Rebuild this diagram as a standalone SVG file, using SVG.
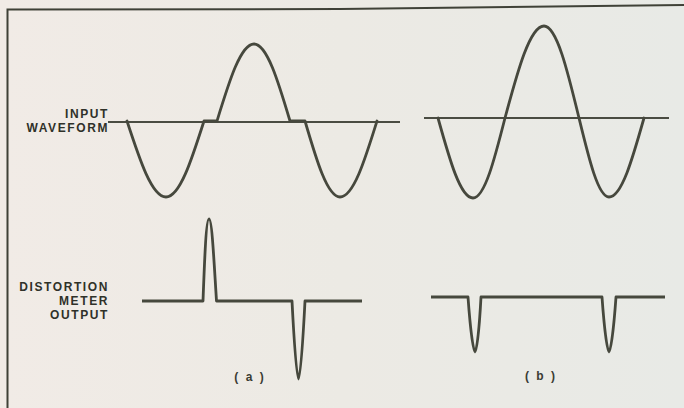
<svg xmlns="http://www.w3.org/2000/svg" width="684" height="408" viewBox="0 0 684 408">
  <defs>
    <linearGradient id="paper" x1="0" y1="0" x2="1" y2="0">
      <stop offset="0" stop-color="#f1ebe6"/>
      <stop offset="0.5" stop-color="#eceae4"/>
      <stop offset="1" stop-color="#e8eae6"/>
    </linearGradient>
  </defs>
  <style>
    .wave { fill: none; stroke: #46483d; stroke-width: 2.8; stroke-linejoin: round; stroke-linecap: round; }
    .axis { fill: none; stroke: #4a4c42; stroke-width: 1.8; }
    .out { fill: none; stroke: #46483d; stroke-width: 2.8; stroke-linejoin: round; }
    .frame { fill: none; stroke: #3f4137; stroke-width: 2; }
    .lbl { font-family: "Liberation Sans", Arial, sans-serif; font-weight: bold; font-size: 12px; letter-spacing: 1.6px; fill: #2f3129; text-anchor: end; }
    .cap { font-family: "Liberation Sans", Arial, sans-serif; font-weight: bold; font-size: 12px; fill: #3a3c33; text-anchor: middle; letter-spacing: 2px; }
  </style>
  <rect x="0" y="0" width="684" height="408" fill="url(#paper)"/>

  <g id="frame">
    <polyline class="frame" points="7.5,408 7.5,9.5 340,9 684,5"/>
  </g>

  <g id="labels">
    <text class="lbl" x="109" y="118">INPUT</text>
    <text class="lbl" x="109" y="132">WAVEFORM</text>
    <text class="lbl" x="109" y="291">DISTORTION</text>
    <text class="lbl" x="109" y="305">METER</text>
    <text class="lbl" x="109" y="319">OUTPUT</text>
    <text class="cap" x="250" y="381">( a )</text>
    <text class="cap" x="541" y="380">( b )</text>
  </g>

  <g id="input-a">
    <line class="axis" x1="108" y1="122" x2="400" y2="122"/>
    <path class="wave" d="M127,121 C139.7,159.9 151.9,197 166,197 C179.8,197 191.6,159.9 204,121 L217,121 C229.1,81.6 240.6,44 254,44 C267,44 278.3,81.6 290,121 L305,121 C316.4,159.9 327.3,197 340,197 C353.4,197 364.9,159.9 377,121"/>
  </g>

  <g id="input-b">
    <line class="axis" x1="424" y1="118" x2="669" y2="118"/>
    <path class="wave" d="M438,118 C449.4,159 460.3,198 473,198 C484.6,198 494.6,159 505,118 C517.7,70.9 529.9,26 544,26 C556.7,26 567.6,70.9 579,118 C588.8,158.4 598.1,197 609,197 C621.7,197 632.6,158.4 644,118"/>
  </g>

  <g id="output-a">
    <path class="out" d="M142,301 L203,301 C204.5,262 206,219 209,219 C212,219 214,262 216.5,301 L292,301 C294,340 296.5,379 298.5,379 C300.5,379 303,340 305,301 L362,301"/>
  </g>

  <g id="output-b">
    <path class="out" d="M431,297 L468,297 C470,325 473,352 475,352 C477,352 479.5,325 481,297 L602,297 C604,325 607,352 609,352 C611,352 614,325 616,297 L665,297"/>
  </g>
</svg>
